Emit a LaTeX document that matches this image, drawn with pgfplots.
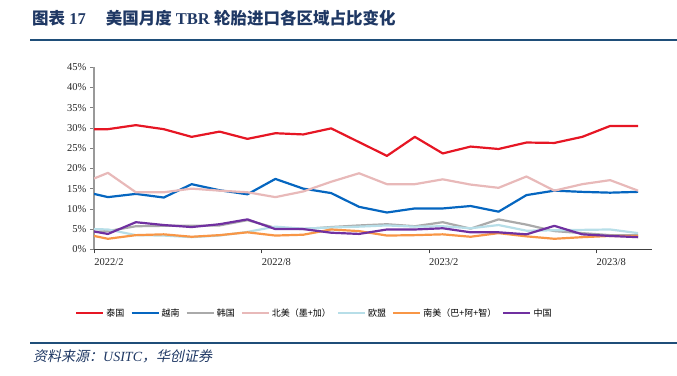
\documentclass[border=0pt]{standalone}
\usepackage{fontspec}
\usepackage{pgfplots}
\usepackage{pgfplotstable}
\pgfplotsset{compat=1.18}
\setmainfont{Liberation Serif}
\newfontfamily\cjk{Noto Sans CJK SC}
\newfontfamily\cjkit[FakeSlant=0.2]{Noto Sans CJK SC}
\definecolor{cTH}{RGB}{230,22,36}
\definecolor{cVN}{RGB}{5,102,192}
\definecolor{cKR}{RGB}{170,170,170}
\definecolor{cNA}{RGB}{232,185,185}
\definecolor{cEU}{RGB}{183,222,232}
\definecolor{cSA}{RGB}{248,150,70}
\definecolor{cCN}{RGB}{112,48,160}
\definecolor{tblue}{RGB}{31,56,100}
\definecolor{lblue}{RGB}{31,78,121}
\pgfplotstableread{
x th vn kr na eu sa cn
0 29.7 13.7 4.3 17.5 5.0 3.3 4.4
0.5 29.7 12.9 4.5 18.9 4.9 2.6 3.8
1.5 30.7 13.7 5.7 14.1 3.5 3.5 6.7
2.5 29.7 12.8 5.8 14.1 3.4 3.7 6.0
3.5 27.8 16.1 5.8 15.0 3.0 3.1 5.5
4.5 29.1 14.6 5.9 14.5 3.4 3.5 6.2
5.5 27.3 13.6 7.2 14.1 4.3 4.2 7.4
6.5 28.7 17.4 5.3 12.9 5.6 3.4 5.0
7.5 28.4 15.0 5.0 14.3 5.1 3.6 5.0
8.5 29.9 13.9 5.5 16.7 5.4 4.9 4.1
9.5 26.5 10.5 5.9 18.8 5.6 4.5 3.8
10.5 23.1 9.1 6.2 16.1 5.9 3.4 4.9
11.5 27.8 10.1 5.7 16.1 5.6 3.5 4.9
12.5 23.7 10.1 6.7 17.3 5.7 3.7 5.2
13.5 25.4 10.7 5.1 16.0 5.2 3.1 4.2
14.5 24.8 9.3 7.4 15.2 6.0 4.0 4.2
15.5 26.4 13.4 6.1 18.0 4.6 3.2 3.7
16.5 26.3 14.5 4.5 14.5 4.7 2.6 5.8
17.5 27.8 14.2 4.0 16.1 4.8 3.0 3.7
18.5 30.5 14.0 3.5 17.1 4.9 3.3 3.3
19.5 30.5 14.2 3.5 14.5 4.0 3.3 3.0
}\datatable
\begin{document}
\begin{tikzpicture}
\path[use as bounding box] (0bp,0bp) rectangle (677bp,376bp);
% title
\node[anchor=west, inner sep=0pt, text=tblue, font=\fontsize{16.5bp}{18bp}\selectfont\bfseries] at (32bp,358bp)
  {{\cjk 图表}\ 17\hspace{20bp}{\cjk 美国月度}\ TBR\ {\cjk 轮胎进口各区域占比变化}};
\draw[lblue, line width=1.8bp] (30bp,336bp) -- (677bp,336bp);
% source
\draw[lblue, line width=1.2bp] (30bp,33bp) -- (677bp,33bp);
\node[anchor=west, inner sep=0pt, text=tblue, font=\fontsize{14bp}{16bp}\selectfont] at (33bp,20bp)
  {{\cjkit 资料来源：}\textit{USITC}{\cjkit ，华创证券}};
\begin{axis}[
  at={(94bp,126.7bp)}, anchor=south west,
  scale only axis, width=558bp, height=182bp,
  xmin=0, xmax=20, ymin=0, ymax=45,
  axis lines*=left,
  x axis line style={black!75, line width=0.8bp},
  y axis line style={black!40, line width=1.6bp},
  xtick={0,6,12,18},
  xticklabels={2022/2,2022/8,2023/2,2023/8},
  xticklabel style={xshift=15bp, yshift=-2bp},
  ytick={0,5,...,45},
  yticklabel={\pgfmathprintnumber{\tick}\%},
  tick align=outside,
  major tick length=4bp,
  x tick style={black!75, line width=0.6bp},
  y tick style={black!50, line width=0.6bp},
  /pgf/number format/assume math mode=true,
  tick label style={font=\fontsize{10.5bp}{12bp}\selectfont, text=black!85},
  clip=true,
  legend columns=7,
  legend style={at={(-0.034,-0.35)}, anchor=west, draw=none, fill=none,
    inner sep=0pt, font=\fontsize{9bp}{10bp}\selectfont\cjk,
    /tikz/every even column/.append style={column sep=4bp}},
  legend image code/.code={\draw[#1] (0bp,0bp) -- (27bp,0bp);},
  every axis plot/.append style={line width=2.2bp, line join=round},
]
\addplot[cTH] table[x=x,y=th] {\datatable};
\addlegendentry{泰国}
\addplot[cVN] table[x=x,y=vn] {\datatable};
\addlegendentry{越南}
\addplot[cKR] table[x=x,y=kr] {\datatable};
\addlegendentry{韩国}
\addplot[cNA] table[x=x,y=na] {\datatable};
\addlegendentry{北美（墨+加）}
\addplot[cEU] table[x=x,y=eu] {\datatable};
\addlegendentry{欧盟}
\addplot[cSA] table[x=x,y=sa] {\datatable};
\addlegendentry{南美（巴+阿+智）}
\addplot[cCN] table[x=x,y=cn] {\datatable};
\addlegendentry{中国}
\end{axis}
\end{tikzpicture}
\end{document}
